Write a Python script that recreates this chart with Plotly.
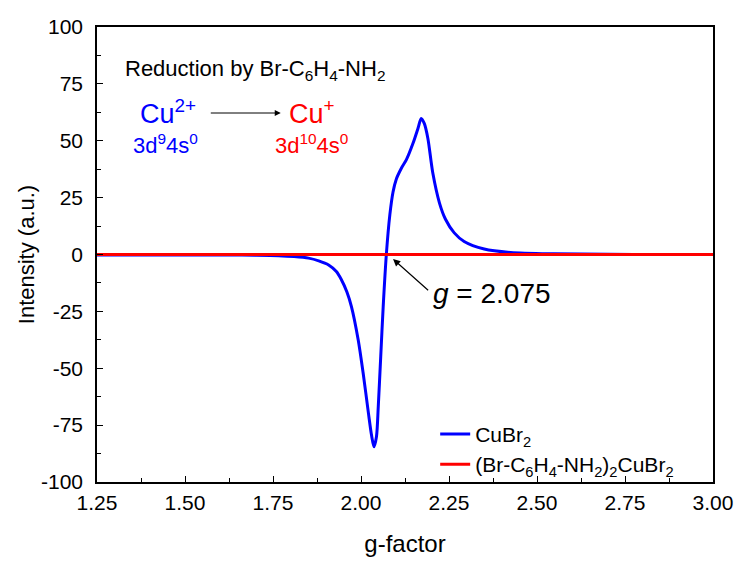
import plotly.graph_objects as go

# ---- data ----
g_cubr2 = [1.25, 1.40, 1.55, 1.625, 1.70, 1.766, 1.81, 1.851, 1.88, 1.908, 1.93, 1.944,
           1.96, 1.973, 1.992, 2.006, 2.021, 2.030, 2.037, 2.044, 2.049, 2.056, 2.063,
           2.072, 2.082, 2.091, 2.100, 2.115, 2.129, 2.148, 2.162, 2.171, 2.180, 2.19, 2.204,
           2.223, 2.240, 2.265, 2.293, 2.35, 2.425, 2.547, 2.70, 2.85, 3.00]
i_cubr2 = [-0.2, -0.2, -0.2, -0.2, -0.3, -0.5, -0.9, -1.6, -2.8, -4.6, -7.5, -11.0,
           -16.5, -23.0, -37.5, -52.0, -69.6, -79.5, -84.5, -80.0, -67.0, -45.0, -23.0,
           0.0, 17.5, 27.5, 33.0, 38.0, 41.7, 49.0, 55.5, 59.8, 57.5, 51.0, 35.8,
           22.6, 15.5, 9.5, 5.7, 2.4, 0.9, 0.3, 0.1, 0.0, 0.0]

g_complex = [1.25, 1.50, 1.75, 2.00, 2.25, 2.50, 2.75, 3.00]
i_complex = [0.0, 0.0, 0.0, 0.0, 0.0, 0.0, 0.0, 0.0]

series_names = ["CuBr<sub>2</sub>",
                "(Br-C<sub>6</sub>H<sub>4</sub>-NH<sub>2</sub>)<sub>2</sub>CuBr<sub>2</sub>"]

x_ticks = [1.25, 1.50, 1.75, 2.00, 2.25, 2.50, 2.75, 3.00]
x_tick_labels = ["1.25", "1.50", "1.75", "2.00", "2.25", "2.50", "2.75", "3.00"]
y_ticks = [-100, -75, -50, -25, 0, 25, 50, 75, 100]
y_tick_labels = ["-100", "-75", "-50", "-25", "0", "25", "50", "75", "100"]

FONT = "Liberation Sans, Arial, sans-serif"
BLUE = "#0000FF"
RED = "#FF0000"

fig = go.Figure()
fig.add_trace(go.Scatter(x=g_cubr2, y=i_cubr2, mode="lines", name=series_names[0],
                         line=dict(color=BLUE, width=3, shape="spline", smoothing=0.8)))
fig.add_trace(go.Scatter(x=g_complex, y=i_complex, mode="lines", name=series_names[1],
                         line=dict(color=RED, width=3)))

axis_common = dict(showline=True, linecolor="black", linewidth=1.5, mirror=True,
                   showgrid=False, zeroline=False, ticks="inside", ticklen=6,
                   tickwidth=1, tickcolor="black",
                   tickfont=dict(family=FONT, size=21, color="black"))

fig.update_xaxes(range=[1.25, 3.0], tickvals=x_ticks, ticktext=x_tick_labels,
                 minor=dict(ticks="inside", ticklen=4, dtick=0.125, tick0=1.25,
                            tickcolor="black"),
                 title=dict(text="g-factor", font=dict(family=FONT, size=24, color="black"),
                            standoff=22),
                 ticklabelstandoff=1, **axis_common)
fig.update_yaxes(range=[-100, 100], tickvals=y_ticks, ticktext=y_tick_labels,
                 minor=dict(ticks="inside", ticklen=4, dtick=12.5, tick0=0,
                            tickcolor="black"),
                 title=dict(text="Intensity (a.u.)", font=dict(family=FONT, size=22, color="black"),
                            standoff=0),
                 ticklabelstandoff=8, **axis_common)

annotations = [
    dict(x=1.3234, y=81.3, text="Reduction by Br-C<sub>6</sub>H<sub>4</sub>-NH<sub>2</sub>",
         xanchor="left", yanchor="middle", showarrow=False,
         font=dict(family=FONT, size=22, color="black")),
    dict(x=1.453, y=62.8, text="Cu<sup>2+</sup>", showarrow=False,
         xanchor="center", yanchor="middle", font=dict(family=FONT, size=27, color=BLUE)),
    dict(x=1.862, y=62.8, text="Cu<sup>+</sup>", showarrow=False,
         xanchor="center", yanchor="middle", font=dict(family=FONT, size=27, color=RED)),
    dict(x=1.446, y=48.5, text="3d<sup>9</sup>4s<sup>0</sup>", showarrow=False,
         xanchor="center", yanchor="middle", font=dict(family=FONT, size=22, color=BLUE)),
    dict(x=1.858, y=48.5, text="3d<sup>10</sup>4s<sup>0</sup>", showarrow=False,
         xanchor="center", yanchor="middle", font=dict(family=FONT, size=22, color=RED)),
    # arrow Cu2+ -> Cu+
    dict(x=1.772, y=62.2, ax=1.569, ay=62.2, axref="x", ayref="y", text="",
         showarrow=True, arrowhead=2, arrowsize=1.2, arrowwidth=1, arrowcolor="black"),
    # g-value arrow
    dict(x=2.091, y=-2.0, ax=2.195, ay=-16.3, axref="x", ayref="y", text="",
         showarrow=True, arrowhead=2, arrowsize=1.2, arrowwidth=1.2, arrowcolor="black"),
    dict(x=2.373, y=-17.0, text="<i>g</i> = 2.075", showarrow=False,
         xanchor="center", yanchor="middle", font=dict(family=FONT, size=28, color="black")),
]

fig.update_layout(
    width=745, height=565,
    margin=dict(l=97, r=28, t=27, b=83),
    paper_bgcolor="white", plot_bgcolor="white",
    font=dict(family=FONT, color="black"),
    legend=dict(x=0.549, y=0.15, xanchor="left", yanchor="top",
                bgcolor="rgba(0,0,0,0)", borderwidth=0,
                font=dict(family=FONT, size=21, color="black"),
                tracegroupgap=0),
    annotations=annotations,
)

fig.write_html("out.html")
